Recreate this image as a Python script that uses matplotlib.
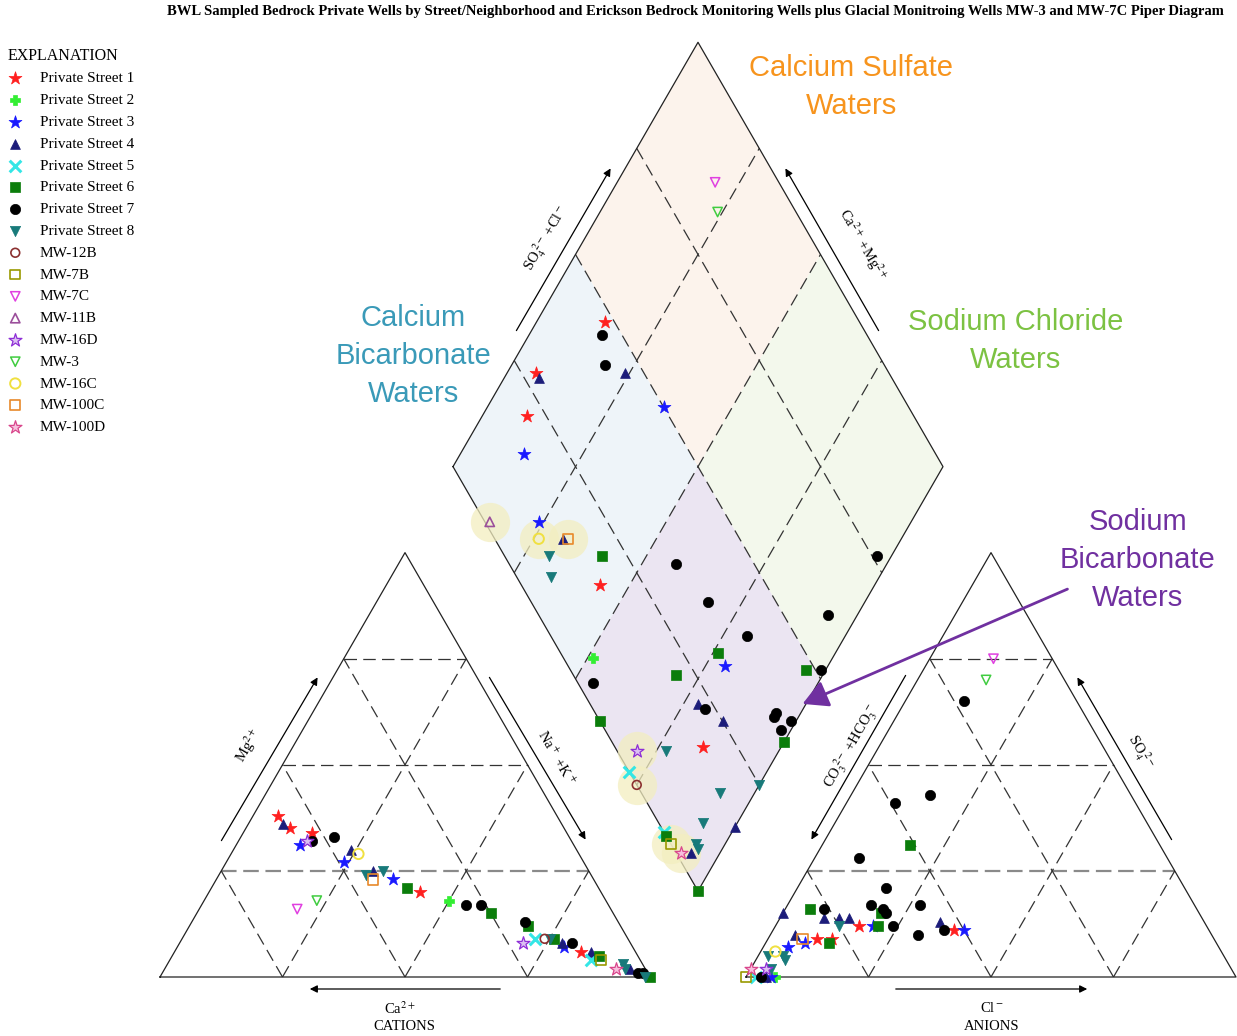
import numpy as np
import matplotlib.pyplot as plt

plt.rcParams['font.family'] = ['Liberation Serif', 'DejaVu Serif']
plt.rcParams['mathtext.fontset'] = 'stix'

# sample groups (legend order)
GROUPS = ['P1', 'P2', 'P3', 'P4', 'P5', 'P6', 'P7', 'P8',
          '12B', '7B', '7C', '11B', '16D', '3', '16C', '100C', '100D']
LABELS = ['Private Street 1', 'Private Street 2', 'Private Street 3', 'Private Street 4',
          'Private Street 5', 'Private Street 6', 'Private Street 7', 'Private Street 8',
          'MW-12B', 'MW-7B', 'MW-7C', 'MW-11B', 'MW-16D', 'MW-3', 'MW-16C', 'MW-100C', 'MW-100D']

# diamond field: Na+K (% of cations), SO4+Cl (% of anions)
dia_grp = ['7C', '3', 'P1', 'P7', 'P7', 'P1', 'P4', 'P4', 'P3', 'P1', 'P3', '11B', 'P3', '16C',
           '100C', 'P4', 'P8', 'P8', 'P6', 'P1', 'P7', 'P7', 'P7', 'P7', 'P7', 'P6', 'P3', 'P6',
           'P2', 'P7', 'P6', 'P7', 'P4', 'P7', 'P4', 'P7', 'P7', 'P7', 'P7', 'P6', 'P6', '16D',
           'P8', 'P1', 'P5', '12B', 'P8', 'P8', 'P8', 'P4', 'P5', 'P6', '7B', '100D', 'P4', 'P8',
           'P8', 'P6']
dia_na = [20, 24, 14, 15, 19, 6, 7, 24, 36, 9, 13, 14, 24, 26,
          32, 31, 30, 33, 41, 44, 57, 68, 80, 94, 97, 76, 79, 70,
          51, 54, 96, 99, 78, 80, 85, 95, 95, 98, 99, 60, 100, 71,
          77, 84, 72, 75, 100, 93, 93, 100, 86, 87, 89, 92, 94, 94,
          95, 100]
dia_scl = [87, 84, 48, 46, 43, 28, 28, 46, 50, 21, 16, 1, 11, 9,
           15, 14, 9, 7, 20, 16, 34, 36, 40, 59, 76, 32, 32, 21,
           6, 3, 48, 51, 22, 23, 25, 36, 37, 36, 39, 0, 35, 4,
           10, 18, 0, 0, 25, 16, 9, 15, 0, 0, 0, 1, 3, 5,
           5, 0]

# cation triangle: Mg (%), Na+K (%)
cat_grp = ['P1', 'P4', 'P1', 'P1', '16D', 'P7', 'P3', 'P7', 'P4', '16C', 'P3', 'P8', 'P4', 'P8',
           '100C', 'P3', 'P6', 'P1', '7C', '3', 'P2', 'P7', 'P7', 'P6', 'P7', 'P6', '16D', 'P5',
           '12B', 'P6', 'P8', 'P4', 'P3', 'P7', 'P1', 'P4', 'P5', 'P6', '7B', '100D', 'P8', 'P8',
           'P4', 'P7', 'P7', 'P8', 'P6']
cat_mg = [38, 36, 35, 34, 32, 32, 31, 33, 30, 29, 27, 24, 25, 25,
          23, 23, 21, 20, 16, 18, 18, 17, 17, 15, 13, 12, 8, 9,
          9, 9, 9, 8, 7, 8, 6, 6, 4, 5, 4, 2, 3, 2,
          2, 1, 1, 0, 0]
cat_na = [5, 7, 9, 14, 14, 15, 13, 19, 24, 26, 24, 30, 31, 33,
          32, 36, 40, 43, 20, 23, 50, 54, 57, 60, 68, 69, 70, 72,
          74, 76, 75, 78, 79, 80, 83, 85, 86, 87, 88, 92, 93, 94,
          95, 97, 98, 99, 100]

# anion triangle: SO4 (%), Cl (%)
an_grp = ['7C', '3', 'P7', 'P7', 'P7', 'P6', 'P7', 'P7', 'P7', 'P6', 'P7', 'P7', 'P7', 'P6',
          'P7', 'P4', 'P4', 'P4', 'P8', 'P4', 'P1', 'P3', 'P6', 'P7', 'P7', 'P4', 'P7', 'P1',
          'P3', 'P4', '100C', 'P3', 'P3', 'P1', 'P1', 'P6', '16C', 'P8', 'P8', 'P8', '100D', '16D',
          'P8', 'P5', '7B', 'P7', 'P4', 'P3', 'P2']
an_so4 = [75, 70, 65, 41, 43, 31, 28, 21, 17, 15, 16, 15, 17, 16,
          16, 15, 14, 14, 12, 14, 12, 12, 12, 12, 10, 13, 11, 11,
          11, 10, 9, 8, 7, 9, 9, 8, 6, 5, 4, 5, 2, 2,
          2, 0, 0, 0, 0, 0, 0]
an_cl = [13, 14, 12, 10, 16, 18, 9, 18, 17, 20, 20, 21, 27, 5,
         8, 0, 9, 12, 13, 14, 17, 20, 21, 24, 30, 33, 35, 37,
         39, 5, 7, 8, 5, 10, 13, 13, 3, 2, 6, 5, 0, 3,
         4, 2, 0, 3, 4, 5, 6]

# marker styles: marker, face, edge, size, linewidth
STYLE = {
    'P1': ('*', '#ff2020', '#ff2020', 95, 0.5),
    'P2': ('P', '#33ee33', '#33ee33', 60, 0.5),
    'P3': ('*', '#1a1aff', '#1a1aff', 95, 0.5),
    'P4': ('^', '#1c1c7a', '#1c1c7a', 50, 0.5),
    'P5': ('x', '#33e6e6', '#33e6e6', 70, 2.2),
    'P6': ('s', '#0b7d0b', '#0b7d0b', 55, 0.5),
    'P7': ('o', '#000000', '#000000', 55, 0.5),
    'P8': ('v', '#187a7a', '#187a7a', 55, 0.5),
    '12B': ('o', 'none', '#8b3030', 40, 1.2),
    '7B': ('s', 'none', '#999900', 50, 1.2),
    '7C': ('v', 'none', '#e040e0', 45, 1.1),
    '11B': ('^', 'none', '#9b4f9b', 45, 1.2),
    '16D': ('*', '#dcc0f2', '#8e2fd6', 95, 0.9),
    '3': ('v', 'none', '#40cc40', 45, 1.1),
    '16C': ('o', 'none', '#f0e040', 55, 1.4),
    '100C': ('s', 'none', '#e8892a', 55, 1.2),
    '100D': ('*', '#f7c0de', '#d9478c', 95, 0.9),
}
HIGHLIGHT = ['11B', '16C', '100C', '16D', '12B', '7B', '100D']

# layout (pixels)
W, H = 1237, 1036
S = 490.0
HT = S * np.sqrt(3) / 2
CAT0 = (160, 977)
AN0 = (746, 977)
DIA0 = (698, 891)


def cat_xy(mg, na):
    mg = np.asarray(mg, float) / 100
    na = np.asarray(na, float) / 100
    return CAT0[0] + S * na + S / 2 * mg, CAT0[1] - HT * mg


def an_xy(so4, cl):
    so4 = np.asarray(so4, float) / 100
    cl = np.asarray(cl, float) / 100
    return AN0[0] + S * cl + S / 2 * so4, AN0[1] - HT * so4


def dia_xy(na, scl):
    cm = 1 - np.asarray(na, float) / 100
    b = np.asarray(scl, float) / 100
    return DIA0[0] + S / 2 * (b - cm), DIA0[1] - HT * (b + cm)


fig = plt.figure(figsize=(W / 100, H / 100), dpi=100)
ax = fig.add_axes([0, 0, 1, 1])
ax.set_xlim(0, W)
ax.set_ylim(H, 0)
ax.axis('off')

# diamond quadrant fills
quads = [((0, 50), (50, 100), '#fcf3ec'), ((0, 50), (0, 50), '#eef4f9'),
         ((50, 100), (50, 100), '#f3f8ec'), ((50, 100), (0, 50), '#ebe5f2')]
for (n0, n1), (s0, s1), col in quads:
    x, y = dia_xy([n0, n0, n1, n1], [s0, s1, s1, s0])
    ax.fill(x, y, color=col, zorder=0, lw=0)

dash = (0, (10, 5))
# triangle grids
for f in (cat_xy, an_xy):
    for k in (25, 50, 75):
        x, y = f([k, k], [0, 100 - k])
        if k == 25:
            ax.plot(x, y, color='#8a8a8a', lw=1.6, ls=(0, (7, 3)), zorder=1)
        else:
            ax.plot(x, y, color='#333333', lw=0.9, ls=dash, zorder=1)
        x, y = f([0, 100 - k], [k, k])
        ax.plot(x, y, color='#333333', lw=0.9, ls=dash, zorder=1)
        x, y = f([0, 100 - k], [100 - k, 0])
        ax.plot(x, y, color='#333333', lw=0.9, ls=dash, zorder=1)
    x, y = f([0, 0, 100, 0], [0, 100, 0, 0])
    ax.plot(x, y, color='#222222', lw=0.9, zorder=2)

# diamond grid
for k in (25, 50, 75):
    x, y = dia_xy([k, k], [0, 100])
    ax.plot(x, y, color='#333333', lw=0.9, ls=dash, zorder=1)
    x, y = dia_xy([0, 100], [k, k])
    ax.plot(x, y, color='#333333', lw=0.9, ls=dash, zorder=1)
x, y = dia_xy([0, 0, 100, 100, 0], [0, 100, 100, 0, 0])
ax.plot(x, y, color='#222222', lw=0.9, zorder=2)


def draw(xy, grp, a, b, with_label=False):
    grp = np.array(grp)
    x, y = xy(a, b)
    handles = []
    for g, lab in zip(GROUPS, LABELS):
        m = grp == g
        if not m.any():
            continue
        mk, fc, ec, s, lw = STYLE[g]
        if with_label and g in HIGHLIGHT:
            ax.scatter(x[m], y[m], s=800, color='#f3eec0', alpha=0.75, lw=0, zorder=3)
        if mk == 'x':
            h = ax.scatter(x[m], y[m], marker=mk, s=s, c=fc, linewidths=lw, zorder=4,
                           label=lab if with_label else None)
        else:
            h = ax.scatter(x[m], y[m], marker=mk, s=s, facecolors=fc, edgecolors=ec,
                           linewidths=lw, zorder=4, label=lab if with_label else None)
        handles.append(h)
    return handles


handles = draw(dia_xy, dia_grp, dia_na, dia_scl, with_label=True)
draw(cat_xy, cat_grp, cat_mg, cat_na)
draw(an_xy, an_grp, an_so4, an_cl)

# axis arrows
arr = dict(arrowstyle='-|>', color='black', lw=0.9, mutation_scale=11)
for tail, head in [((220, 843), (319, 675)), ((488, 675), (587, 842)), ((503, 989), (307, 989)),
                   ((907, 673), (810, 842)), ((1173, 842), (1076, 675)), ((893, 989), (1090, 989)),
                   ((515, 333), (612, 166)), ((880, 333), (784, 166))]:
    ax.annotate('', xy=head, xytext=tail, arrowprops=arr)

fs = 10.5
ax.text(248, 746, r'Mg$^{2+}$', rotation=60, fontsize=fs, ha='center', va='center')
ax.text(556, 758, r'Na$^+$ +K$^+$', rotation=-60, fontsize=fs, ha='center', va='center')
ax.text(400, 1009, r'Ca$^{2+}$', fontsize=fs, ha='center', va='center')
ax.text(404, 1027, 'CATIONS', fontsize=fs, ha='center', va='center')
ax.text(546, 238, r'SO$_4^{\ 2-}$ +Cl$^-$', rotation=60, fontsize=fs, ha='center', va='center')
ax.text(862, 245, r'Ca$^{2+}$ +Mg$^{2+}$', rotation=-60, fontsize=fs, ha='center', va='center')
ax.text(852, 746, r'CO$_3^{\ 2-}$ +HCO$_3^{\ -}$', rotation=60, fontsize=fs, ha='center', va='center')
ax.text(1140, 752, r'SO$_4^{\ 2-}$', rotation=-60, fontsize=fs, ha='center', va='center')
ax.text(992, 1008, r'Cl$^-$', fontsize=fs, ha='center', va='center')
ax.text(992, 1027, 'ANIONS', fontsize=fs, ha='center', va='center')

# water type labels
sans = ['Liberation Sans', 'DejaVu Sans']
lab_kw = dict(fontsize=21, family=sans, ha='center', va='center', linespacing=1.45)
ax.text(851, 87, 'Calcium Sulfate\nWaters', color='#f7941d', **lab_kw)
ax.text(413, 356, 'Calcium\nBicarbonate\nWaters', color='#3a9ab8', **lab_kw)
ax.text(1016, 341, 'Sodium Chloride\nWaters', color='#7cc242', **lab_kw)
ax.text(1138, 560, 'Sodium\nBicarbonate\nWaters', color='#7030a0', **lab_kw)
ax.annotate('', xy=(800, 705), xytext=(1070, 588),
            arrowprops=dict(arrowstyle='-|>,head_length=0.7,head_width=0.38', color='#7030a0',
                            lw=2, mutation_scale=22))

ax.text(695, 11, 'BWL Sampled Bedrock Private Wells by Street/Neighborhood and Erickson Bedrock '
        'Monitoring Wells plus Glacial Monitroing Wells MW-3 and MW-7C Piper Diagram',
        fontsize=10.5, weight='bold', ha='center', va='center')

leg = ax.legend(handles=handles, loc='upper left', bbox_to_anchor=(0.0, 1 - 40 / H),
                title='EXPLANATION', alignment='left', frameon=False, fontsize=11,
                title_fontsize=11.5, handlelength=1.0, handletextpad=1.1, labelspacing=0.53,
                borderpad=0.25, borderaxespad=0.25)

fig.savefig('out.png', dpi=100)
